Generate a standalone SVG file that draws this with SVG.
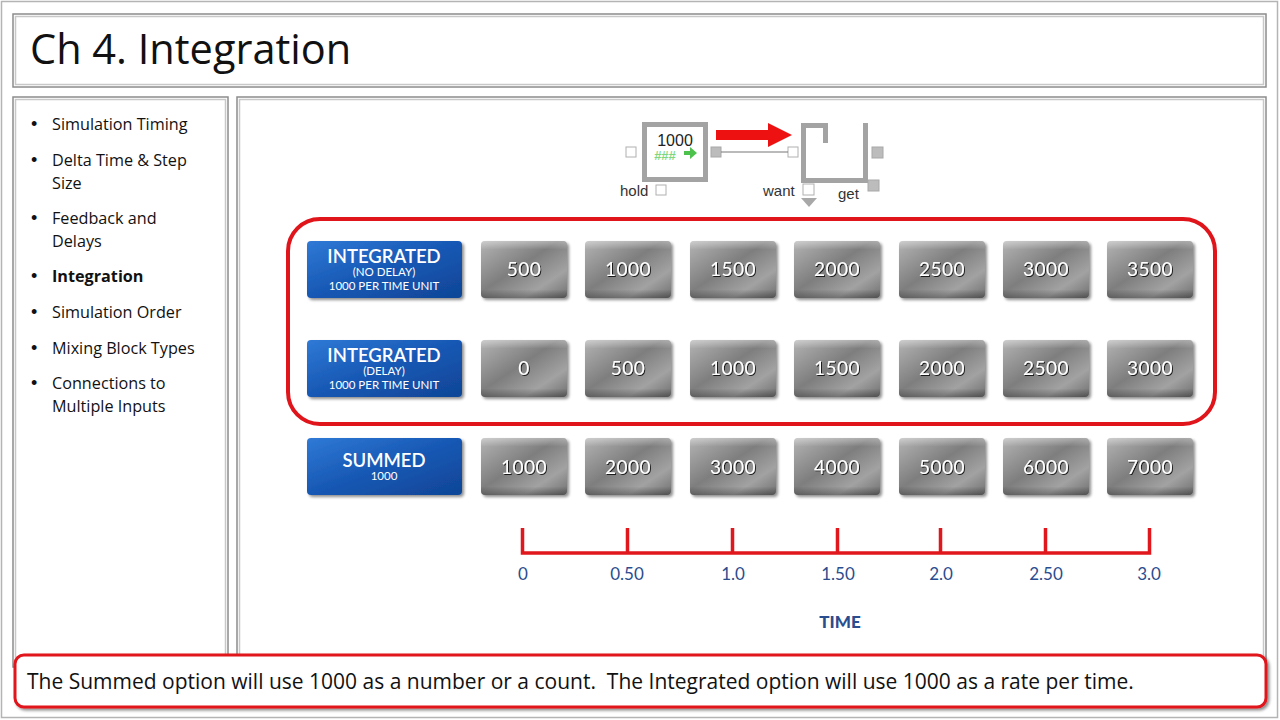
<svg xmlns="http://www.w3.org/2000/svg" width="1280" height="720" viewBox="0 0 1280 720">
<defs>
<linearGradient id="gGray" x1="0" y1="0" x2="1" y2="1">
<stop offset="0" stop-color="#b4b4b4"/>
<stop offset="0.45" stop-color="#7e7e7e"/>
<stop offset="0.75" stop-color="#a2a2a2"/>
<stop offset="1" stop-color="#707070"/>
</linearGradient>
<linearGradient id="gGrayV" x1="0" y1="0" x2="0" y2="1">
<stop offset="0" stop-color="#ffffff" stop-opacity="0.35"/>
<stop offset="0.15" stop-color="#ffffff" stop-opacity="0"/>
<stop offset="0.85" stop-color="#000000" stop-opacity="0"/>
<stop offset="1" stop-color="#000000" stop-opacity="0.3"/>
</linearGradient>
<linearGradient id="gBlue" x1="0" y1="0" x2="1" y2="1">
<stop offset="0" stop-color="#2f7ad6"/>
<stop offset="0.5" stop-color="#1758b4"/>
<stop offset="1" stop-color="#0f4596"/>
</linearGradient>
<filter id="shadow" x="-10%" y="-10%" width="125%" height="130%">
<feGaussianBlur in="SourceAlpha" stdDeviation="1.5"/>
<feOffset dx="1.5" dy="2" result="o"/>
<feComponentTransfer><feFuncA type="linear" slope="0.45"/></feComponentTransfer>
<feMerge><feMergeNode/><feMergeNode in="SourceGraphic"/></feMerge>
</filter>
<filter id="tshadow" x="-10%" y="-20%" width="130%" height="150%">
<feGaussianBlur in="SourceAlpha" stdDeviation="0.6"/>
<feOffset dx="0.8" dy="1" result="o"/>
<feComponentTransfer><feFuncA type="linear" slope="0.8"/></feComponentTransfer>
<feMerge><feMergeNode/><feMergeNode in="SourceGraphic"/></feMerge>
</filter>
</defs>
<style>
.frame{fill:#fff;stroke:#8c8c8c;stroke-width:1.5}
.frameIn{fill:none;stroke:#c8c8c8;stroke-width:1.5}
.bul{font-family:"Open Sans","Noto Sans",sans-serif;font-size:16.2px;fill:#111}
.dot{font-family:"Liberation Sans",Arial,sans-serif;font-size:18px;fill:#111}
.gbtn{fill:url(#gGray)}
.gov{fill:url(#gGrayV)}
.bbtn{fill:url(#gBlue)}
.num{font-family:Lato,"DejaVu Sans",sans-serif;font-size:19px;fill:#fff;text-anchor:middle;letter-spacing:0.5px}
.bt1{font-family:Lato,"DejaVu Sans",sans-serif;font-size:18.5px;font-weight:600;fill:#fff;text-anchor:middle}
.bt2{font-family:Lato,"DejaVu Sans",sans-serif;font-size:11.5px;fill:#fff;text-anchor:middle}
.tick{stroke:#e0171d;stroke-width:3.5;fill:none}
.tl{font-family:Lato,"DejaVu Sans",sans-serif;font-size:17px;fill:#2a4d8f;text-anchor:middle}
.port{fill:#fff;stroke:#b0b0b0;stroke-width:1}
.portF{fill:#bcbcbc;stroke:#a8a8a8;stroke-width:1}
.lbl{font-family:"Liberation Sans",Arial,sans-serif;font-size:15px;fill:#333}
</style>

<rect x="1.5" y="1.5" width="1276" height="716" fill="#fff" stroke="#b4b4b4" stroke-width="1.5"/>

<g id="title">
<rect class="frame" x="13" y="14" width="1253" height="73"/>
<rect class="frameIn" x="15.5" y="16.5" width="1248" height="68"/>
<text x="30" y="64" font-family="'Open Sans','Noto Sans',sans-serif" font-size="41.5" fill="#111">Ch 4. Integration</text>
</g>

<g id="sidebar">
<rect class="frame" x="13" y="97" width="215" height="570"/>
<rect class="frameIn" x="15.5" y="99.5" width="210" height="565"/>
<g class="dot">
<text x="31" y="130">•</text>
<text x="31" y="166">•</text>
<text x="31" y="224">•</text>
<text x="31" y="282">•</text>
<text x="31" y="318">•</text>
<text x="31" y="354">•</text>
<text x="31" y="389">•</text>
</g>
<g class="bul">
<text x="52" y="130">Simulation Timing</text>
<text x="52" y="166">Delta Time &amp; Step</text>
<text x="52" y="189">Size</text>
<text x="52" y="224">Feedback and</text>
<text x="52" y="247">Delays</text>
<text x="52" y="282" font-weight="bold">Integration</text>
<text x="52" y="318">Simulation Order</text>
<text x="52" y="354">Mixing Block Types</text>
<text x="52" y="389">Connections to</text>
<text x="52" y="412">Multiple Inputs</text>
</g>
</g>

<g id="main-panel">
<rect class="frame" x="237" y="97" width="1029" height="570"/>
<rect class="frameIn" x="239.5" y="99.5" width="1024" height="565"/>
</g>

<g id="hold-block">
<rect x="644.5" y="124.5" width="61" height="55" fill="#fff" stroke="#a3a3a3" stroke-width="5"/>
<text x="675" y="146" text-anchor="middle" font-family="'Liberation Sans',Arial,sans-serif" font-size="16" fill="#222">1000</text>
<text x="665" y="160" text-anchor="middle" font-family="'Liberation Sans',Arial,sans-serif" font-size="13" font-weight="bold" fill="#7fd87f">###</text>
<path d="M684,151 h6 v-4 l7,6 l-7,6 v-4 h-6 z" fill="#4cc24c"/>
<rect class="port" x="626" y="147" width="10" height="10"/>
<rect class="portF" x="711" y="147" width="10" height="10"/>
<text class="lbl" x="620" y="196">hold</text>
<rect class="port" x="656" y="185" width="10" height="10"/>
</g>

<g id="queue-block">
<path d="M803.5,123 V180.5 H865.5 V123" fill="none" stroke="#a3a3a3" stroke-width="5"/>
<path d="M801,125.5 H825.5 V143" fill="none" stroke="#a3a3a3" stroke-width="5"/>
<rect class="port" x="788" y="147" width="10" height="10"/>
<rect class="portF" x="872" y="147" width="11" height="11"/>
<rect class="portF" x="868" y="180" width="11" height="11"/>
<text class="lbl" x="763" y="196">want</text>
<rect class="port" x="803" y="184" width="11" height="11"/>
<path d="M801,198 H817 L809,207 Z" fill="#a8a8a8"/>
<text class="lbl" x="838" y="199">get</text>
</g>

<g id="connectors">
<line x1="721" y1="152" x2="788" y2="152" stroke="#777" stroke-width="1.2"/>
<path d="M716,130 H768 V123 L792,135 L768,147 V140 H716 Z" fill="#ee1111"/>
</g>

<g id="integrated-group">
<rect x="288" y="219" width="927" height="205" rx="32" fill="none" stroke="#e0141b" stroke-width="4"/>
</g>

<g id="row-no-delay">
<g filter="url(#shadow)">
<rect class="bbtn" x="307" y="241" width="155" height="57" rx="4"/>
</g>
<text class="bt1" x="384" y="263">INTEGRATED</text>
<text class="bt2" x="384" y="276">(NO DELAY)</text>
<text class="bt2" x="384" y="290">1000 PER TIME UNIT</text>
<g filter="url(#shadow)">
<rect class="gbtn" x="481" y="241" width="86" height="57" rx="4"/>
<rect class="gbtn" x="585" y="241" width="86" height="57" rx="4"/>
<rect class="gbtn" x="690" y="241" width="86" height="57" rx="4"/>
<rect class="gbtn" x="794" y="241" width="86" height="57" rx="4"/>
<rect class="gbtn" x="899" y="241" width="86" height="57" rx="4"/>
<rect class="gbtn" x="1003" y="241" width="86" height="57" rx="4"/>
<rect class="gbtn" x="1107" y="241" width="86" height="57" rx="4"/>
</g>
<g class="gov">
<rect x="481" y="241" width="86" height="57" rx="4"/>
<rect x="585" y="241" width="86" height="57" rx="4"/>
<rect x="690" y="241" width="86" height="57" rx="4"/>
<rect x="794" y="241" width="86" height="57" rx="4"/>
<rect x="899" y="241" width="86" height="57" rx="4"/>
<rect x="1003" y="241" width="86" height="57" rx="4"/>
<rect x="1107" y="241" width="86" height="57" rx="4"/>
</g>
<g filter="url(#tshadow)">
<text class="num" x="524" y="276">500</text>
<text class="num" x="628" y="276">1000</text>
<text class="num" x="733" y="276">1500</text>
<text class="num" x="837" y="276">2000</text>
<text class="num" x="942" y="276">2500</text>
<text class="num" x="1046" y="276">3000</text>
<text class="num" x="1150" y="276">3500</text>
</g>
</g>

<g id="row-delay">
<g filter="url(#shadow)">
<rect class="bbtn" x="307" y="340" width="155" height="57" rx="4"/>
</g>
<text class="bt1" x="384" y="362">INTEGRATED</text>
<text class="bt2" x="384" y="375">(DELAY)</text>
<text class="bt2" x="384" y="389">1000 PER TIME UNIT</text>
<g filter="url(#shadow)">
<rect class="gbtn" x="481" y="340" width="86" height="57" rx="4"/>
<rect class="gbtn" x="585" y="340" width="86" height="57" rx="4"/>
<rect class="gbtn" x="690" y="340" width="86" height="57" rx="4"/>
<rect class="gbtn" x="794" y="340" width="86" height="57" rx="4"/>
<rect class="gbtn" x="899" y="340" width="86" height="57" rx="4"/>
<rect class="gbtn" x="1003" y="340" width="86" height="57" rx="4"/>
<rect class="gbtn" x="1107" y="340" width="86" height="57" rx="4"/>
</g>
<g class="gov">
<rect x="481" y="340" width="86" height="57" rx="4"/>
<rect x="585" y="340" width="86" height="57" rx="4"/>
<rect x="690" y="340" width="86" height="57" rx="4"/>
<rect x="794" y="340" width="86" height="57" rx="4"/>
<rect x="899" y="340" width="86" height="57" rx="4"/>
<rect x="1003" y="340" width="86" height="57" rx="4"/>
<rect x="1107" y="340" width="86" height="57" rx="4"/>
</g>
<g filter="url(#tshadow)">
<text class="num" x="524" y="375">0</text>
<text class="num" x="628" y="375">500</text>
<text class="num" x="733" y="375">1000</text>
<text class="num" x="837" y="375">1500</text>
<text class="num" x="942" y="375">2000</text>
<text class="num" x="1046" y="375">2500</text>
<text class="num" x="1150" y="375">3000</text>
</g>
</g>

<g id="row-summed">
<g filter="url(#shadow)">
<rect class="bbtn" x="307" y="438" width="155" height="57" rx="4"/>
</g>
<text class="bt1" x="384" y="467">SUMMED</text>
<text class="bt2" x="384" y="480">1000</text>
<g filter="url(#shadow)">
<rect class="gbtn" x="481" y="438" width="86" height="57" rx="4"/>
<rect class="gbtn" x="585" y="438" width="86" height="57" rx="4"/>
<rect class="gbtn" x="690" y="438" width="86" height="57" rx="4"/>
<rect class="gbtn" x="794" y="438" width="86" height="57" rx="4"/>
<rect class="gbtn" x="899" y="438" width="86" height="57" rx="4"/>
<rect class="gbtn" x="1003" y="438" width="86" height="57" rx="4"/>
<rect class="gbtn" x="1107" y="438" width="86" height="57" rx="4"/>
</g>
<g class="gov">
<rect x="481" y="438" width="86" height="57" rx="4"/>
<rect x="585" y="438" width="86" height="57" rx="4"/>
<rect x="690" y="438" width="86" height="57" rx="4"/>
<rect x="794" y="438" width="86" height="57" rx="4"/>
<rect x="899" y="438" width="86" height="57" rx="4"/>
<rect x="1003" y="438" width="86" height="57" rx="4"/>
<rect x="1107" y="438" width="86" height="57" rx="4"/>
</g>
<g filter="url(#tshadow)">
<text class="num" x="524" y="474">1000</text>
<text class="num" x="628" y="474">2000</text>
<text class="num" x="733" y="474">3000</text>
<text class="num" x="837" y="474">4000</text>
<text class="num" x="942" y="474">5000</text>
<text class="num" x="1046" y="474">6000</text>
<text class="num" x="1150" y="474">7000</text>
</g>
</g>

<g id="time-axis">
<path class="tick" d="M522.5,528 V553 H1149.5 V528 M627.5,528 V553 M732.5,528 V553 M837.5,528 V553 M940.5,528 V553 M1045.5,528 V553"/>
<text class="tl" x="523" y="580">0</text>
<text class="tl" x="627" y="580">0.50</text>
<text class="tl" x="733" y="580">1.0</text>
<text class="tl" x="838" y="580">1.50</text>
<text class="tl" x="941" y="580">2.0</text>
<text class="tl" x="1046" y="580">2.50</text>
<text class="tl" x="1149" y="580">3.0</text>
<text class="tl" x="840" y="628" font-weight="900" font-size="18" fill="#1f3f8c">TIME</text>
</g>

<g id="note">
<rect x="15" y="655" width="1251" height="52" rx="9" fill="#fff" stroke="#e0141b" stroke-width="3" filter="url(#shadow)"/>
<text x="27" y="689" xml:space="preserve" font-family="'Open Sans','Noto Sans',sans-serif" font-size="21" fill="#111">The Summed option will use 1000 as a number or a count.  The Integrated option will use 1000 as a rate per time.</text>
</g>
</svg>
